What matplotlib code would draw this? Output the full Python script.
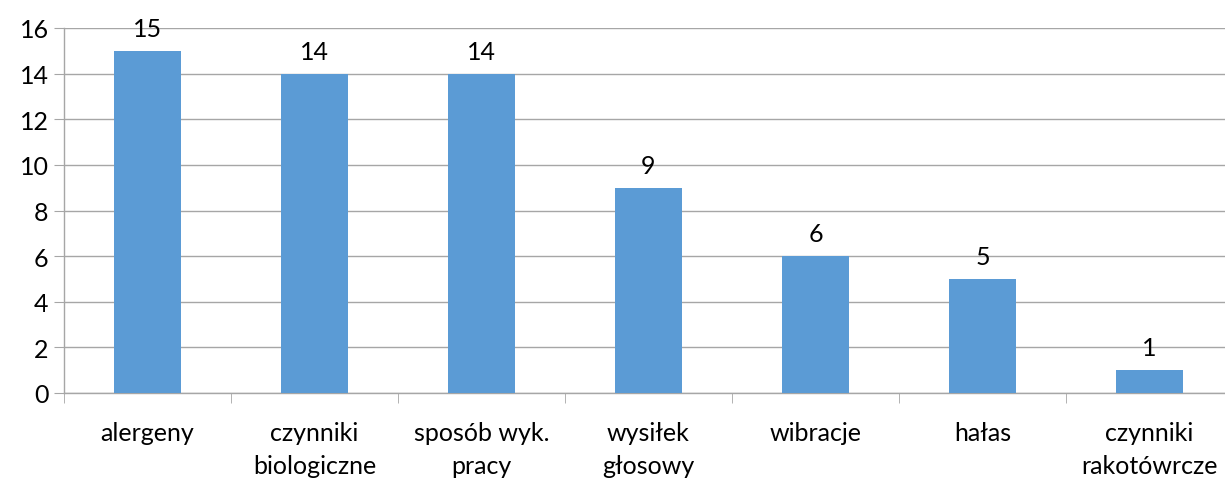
import numpy as np
import matplotlib
matplotlib.use("Agg")
import matplotlib.pyplot as plt

# dane
categories = ["alergeny", "czynniki\nbiologiczne", "sposób wyk.\npracy",
              "wysiłek\ngłosowy", "wibracje", "hałas", "czynniki\nrakotówrcze"]
values = [15, 14, 14, 9, 6, 5, 1]
y_ticks = [0, 2, 4, 6, 8, 10, 12, 14, 16]

BAR_COLOR = "#5B9BD5"
GRID_COLOR = "#A6A6A6"
FS = 18

plt.rcParams["font.family"] = ["Lato", "DejaVu Sans"]

W, H = 1225, 485
fig = plt.figure(figsize=(W / 100, H / 100), dpi=100)

# oś lekko wykracza poza prawą krawędź rysunku
left, right, top, bottom = 64, 1233, 29, 394
ax = fig.add_axes([left / W, (H - bottom) / H, (right - left) / W, (bottom - top) / H])

x = np.arange(len(values))
ax.bar(x, values, width=0.4, color=BAR_COLOR, zorder=3)

for xi, v in zip(x, values):
    ax.annotate(str(v), (xi, v), xytext=(0, 8), textcoords="offset points",
                ha="center", va="bottom", fontsize=FS, color="black")

ax.set_xlim(-0.5, len(values) - 0.5)
ax.set_ylim(0, 16)
ax.set_yticks(y_ticks)
ax.yaxis.grid(True, color=GRID_COLOR, linewidth=1, zorder=0)

ax.set_xticks(x)
ax.set_xticklabels(categories, fontsize=FS, linespacing=1.55)
ax.set_xticks(np.arange(len(values) + 1) - 0.5, minor=True)
ax.tick_params(axis="x", which="major", length=0, pad=20)
ax.tick_params(axis="x", which="minor", length=7, color=GRID_COLOR, direction="out")
ax.tick_params(axis="y", length=7, color=GRID_COLOR, labelsize=FS, pad=4)

for side in ["top", "right"]:
    ax.spines[side].set_visible(False)
for side in ["left", "bottom"]:
    ax.spines[side].set_color(GRID_COLOR)
    ax.spines[side].set_linewidth(1)

fig.savefig("out.png", dpi=100)
